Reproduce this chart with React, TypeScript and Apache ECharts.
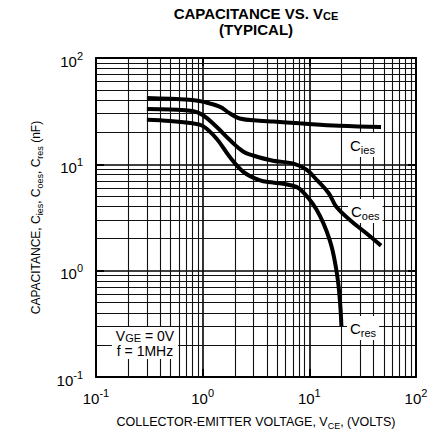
import React, { useEffect, useRef } from "react";
import * as echarts from "echarts";

const FONT = "'Liberation Sans', Arial, Helvetica, sans-serif";

// Axis ranges and tick labels (decades)
const X_MIN = 0.1;
const X_MAX = 100;
const Y_MIN = 0.1;
const Y_MAX = 100;
const MINOR_X = [0.2, 0.3, 0.4, 0.5, 0.6, 0.7, 0.8, 0.9, 2, 3, 4, 5, 6, 7, 8, 9, 20, 30, 40, 50, 60, 70, 80, 90];
const MINOR_Y = [0.2, 0.3, 0.4, 0.5, 0.6, 0.7, 0.8, 0.9, 2, 3, 4, 5, 6, 7, 8, 9, 20, 30, 40, 50, 60, 70, 80, 90];

// Cies curve (VCE volts, capacitance nF)
const ciesVce = [0.3, 0.5, 0.8, 1.0, 1.44, 1.79, 2.22, 3.4, 4.6, 8.1, 19, 47];
const ciesCap = [42, 41.3, 40.3, 38.9, 34.9, 30.2, 27, 25.7, 25.3, 24.3, 23, 22.4];

// Coes curve
const coesVce = [0.3, 0.5, 0.8, 1.0, 1.34, 1.79, 2.39, 2.9, 4.56, 7.0, 9.4, 11.8, 15.2, 17.9, 24, 34, 47];
const coesCap = [33.2, 32.8, 31.8, 29.1, 22.7, 17, 13.2, 12.2, 10.8, 10.2, 8.9, 7.1, 5.35, 4.0, 3.0, 2.26, 1.72];

// Cres curve
const cresVce = [0.3, 0.5, 0.8, 1.0, 1.34, 1.79, 2.39, 3.4, 4.56, 6.5, 8.1, 11.7, 15.5, 17.9, 19.2, 20];
const cresCap = [26.2, 25.5, 24.3, 23, 17.6, 11.8, 8.55, 7.1, 6.75, 6.4, 5.9, 3.74, 1.95, 1.02, 0.574, 0.3];

const pair = (xs: number[], ys: number[]) => xs.map((x, i) => [x, ys[i]]);

const expLabel = (v: number) => {
  const e = Math.round(Math.log10(v));
  return `{b|10}{s|${e}}`;
};

const labelRich = {
  b: { fontFamily: FONT, fontSize: 15, lineHeight: 16, padding: [6, 0, 0, 0], color: "#000" },
  s: { fontFamily: FONT, fontSize: 11, lineHeight: 14, verticalAlign: "top", color: "#000" },
};

const subRich = (size: number, subSize: number, bold = false) => ({
  m: { fontFamily: FONT, fontSize: size, lineHeight: size + 5, color: "#000", fontWeight: bold ? "bold" : "normal" },
  u: { fontFamily: FONT, fontSize: subSize, lineHeight: subSize + 1, verticalAlign: "bottom", color: "#000", fontWeight: bold ? "bold" : "normal" },
});

export default function App() {
  const ref = useRef<HTMLDivElement>(null);
  useEffect(() => {
    document.body.style.margin = "0";
    if (!ref.current) return;
    const chart = echarts.init(ref.current, undefined, { renderer: "svg" });
    const curve = (name: string, xs: number[], ys: number[]) => ({
      name,
      type: "line",
      data: pair(xs, ys),
      showSymbol: false,
      smooth: 0.4,
      z: 10,
      lineStyle: { color: "#000", width: 4 },
      silent: true,
    });
    const axisCommon = {
      type: "log",
      logBase: 10,
      axisLine: { show: true, lineStyle: { color: "#000", width: 2 } },
      axisTick: { show: true, inside: true, length: 8, lineStyle: { color: "#000", width: 2 } },
    };
    const labelBox = (text: string, x: number, y: number) => ({
      type: "text",
      x,
      y,
      z: 3,
      style: {
        text,
        rich: subRich(15, 11),
        backgroundColor: "#fff",
        padding: [2, 3, 2, 3],
      },
    });
    chart.setOption({
      animation: false,
      grid: { left: 96, right: 27, top: 58, bottom: 53, containLabel: false, outerBoundsMode: "none" },
      xAxis: [
        {
          ...axisCommon,
          position: "bottom",
          min: X_MIN,
          max: X_MAX,
          axisLabel: { formatter: expLabel, rich: labelRich, margin: 10 },
          splitLine: { show: true, lineStyle: { color: "#000", width: 1.6 } },
          name: "{m|COLLECTOR-EMITTER VOLTAGE, V}{u|CE}{m|, (VOLTS)}",
          nameLocation: "middle",
          nameGap: 36,
          nameTextStyle: { rich: subRich(12.5, 9) },
        },
        {
          ...axisCommon,
          position: "top",
          min: X_MIN,
          max: X_MAX,
          axisLabel: { show: false },
          splitLine: { show: false },
        },
      ],
      yAxis: [
        {
          ...axisCommon,
          position: "left",
          min: Y_MIN,
          max: Y_MAX,
          axisLabel: { formatter: expLabel, rich: labelRich, margin: 13 },
          splitLine: { show: true, lineStyle: { color: "#000", width: 1.6 } },
          name: "{m|CAPACITANCE, C}{u|ies}{m|, C}{u|oes}{m|, C}{u|res}{m| (nF)}",
          nameLocation: "middle",
          nameGap: 52,
          nameTextStyle: { rich: subRich(12, 9) },
        },
        {
          ...axisCommon,
          position: "right",
          min: Y_MIN,
          max: Y_MAX,
          axisLabel: { show: false },
          splitLine: { show: false },
        },
      ],
      series: [
        {
          type: "line",
          data: [],
          silent: true,
          z: 1,
          markLine: {
            silent: true,
            z: 1,
            symbol: ["none", "none"],
            label: { show: false },
            lineStyle: { color: "#111", width: 1.1, type: "solid" },
            emphasis: { disabled: true },
            data: [
              ...MINOR_X.map((v) => ({ xAxis: v })),
              ...MINOR_Y.map((v) => ({ yAxis: v })),
            ],
          },
        },
        curve("Cies", ciesVce, ciesCap),
        curve("Coes", coesVce, coesCap),
        curve("Cres", cresVce, cresCap),
      ],
      graphic: [
        {
          type: "text",
          x: 256,
          y: 5,
          style: {
            text: "{m|CAPACITANCE VS. V}{u|CE}\n{m|(TYPICAL)}",
            align: "center",
            rich: {
              m: { fontFamily: FONT, fontSize: 15, fontWeight: "bold", lineHeight: 16, color: "#000", align: "center" },
              u: { fontFamily: FONT, fontSize: 11, fontWeight: "bold", lineHeight: 10, verticalAlign: "bottom", color: "#000" },
            },
          },
        },
        labelBox("{m|C}{u|ies}", 347, 133),
        labelBox("{m|C}{u|oes}", 348, 199),
        labelBox("{m|C}{u|res}", 347, 316),
        {
          type: "text",
          x: 145,
          y: 327,
          z: 3,
          style: {
            text: "{m|V}{u|GE}{m| = 0V}\n{m|f = 1MHz}",
            align: "center",
            rich: {
              m: { fontFamily: FONT, fontSize: 14, lineHeight: 15, color: "#000" },
              u: { fontFamily: FONT, fontSize: 11, lineHeight: 10, verticalAlign: "bottom", color: "#000" },
            },
            backgroundColor: "#fff",
            padding: [1, 4, 1, 4],
          },
        },
      ],
    });
    return () => chart.dispose();
  }, []);
  return <div ref={ref} style={{ width: 443, height: 430 }} />;
}
